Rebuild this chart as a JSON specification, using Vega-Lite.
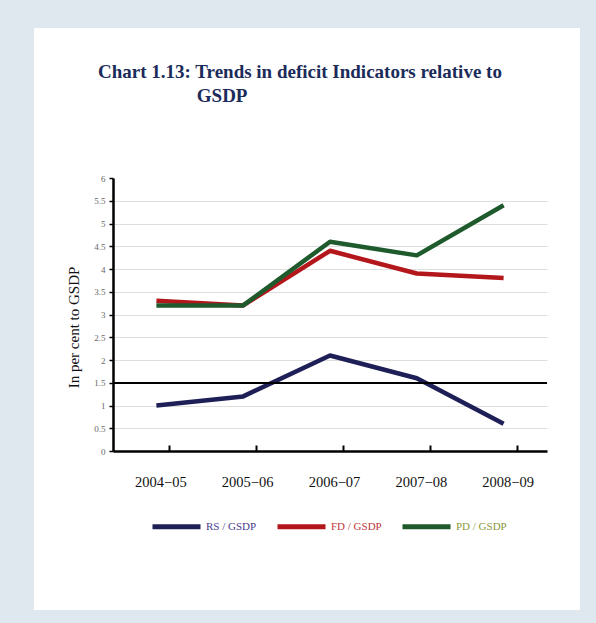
{
  "$schema": "https://vega.github.io/schema/vega-lite/v6.json",
  "autosize": {"type": "none"},
  "padding": {"left": 34, "top": 28, "right": 16, "bottom": 13},
  "width": 546,
  "height": 582,
  "background": "#dfe7ef",
  "config": {
    "view": {"fill": "white", "stroke": null},
    "font": "Liberation Serif"
  },
  "title": {
    "text": ["Chart 1.13: Trends in deficit Indicators relative to", "\u200b\u2003\u2003\u2003\u2003\u2003\u2009GSDP"],
    "anchor": "start",
    "frame": "group",
    "font": "Liberation Serif",
    "fontSize": 19,
    "fontWeight": "bold",
    "color": "#1b2b5a",
    "lineHeight": 24,
    "dx": 64,
    "offset": -78
  },
  "data": {
    "values": [
      {"year": "2004-05", "series": "RS / GSDP", "value": 1.0},
      {"year": "2005-06", "series": "RS / GSDP", "value": 1.2},
      {"year": "2006-07", "series": "RS / GSDP", "value": 2.1},
      {"year": "2007-08", "series": "RS / GSDP", "value": 1.6},
      {"year": "2008-09", "series": "RS / GSDP", "value": 0.6},
      {"year": "2004-05", "series": "FD / GSDP", "value": 3.3},
      {"year": "2005-06", "series": "FD / GSDP", "value": 3.2},
      {"year": "2006-07", "series": "FD / GSDP", "value": 4.4},
      {"year": "2007-08", "series": "FD / GSDP", "value": 3.9},
      {"year": "2008-09", "series": "FD / GSDP", "value": 3.8},
      {"year": "2004-05", "series": "PD / GSDP", "value": 3.2},
      {"year": "2005-06", "series": "PD / GSDP", "value": 3.2},
      {"year": "2006-07", "series": "PD / GSDP", "value": 4.6},
      {"year": "2007-08", "series": "PD / GSDP", "value": 4.3},
      {"year": "2008-09", "series": "PD / GSDP", "value": 5.4}
    ]
  },
  "encoding": {
    "x": {
      "field": "year",
      "type": "ordinal",
      "scale": {"type": "band", "range": [79, 513], "paddingInner": 0, "paddingOuter": 0},
      "axis": {
        "title": null,
        "orient": "bottom",
        "offset": -159,
        "domainColor": "black",
        "domainWidth": 2.5,
        "tickColor": "black",
        "tickWidth": 2,
        "tickSize": -6,
        "tickOffset": 13,
        "labelOffset": -9,
        "labelAngle": 0,
        "labelFont": "Liberation Serif",
        "labelFontSize": 14.5,
        "labelColor": "#111",
        "labelPadding": 30,
        "labelExpr": "replace(datum.label, '-', '\u2212')"
      }
    },
    "y": {
      "field": "value",
      "type": "quantitative",
      "scale": {"domain": [0, 6], "range": [423, 150], "nice": false, "zero": true},
      "axis": {
        "title": "In per cent to GSDP",
        "orient": "left",
        "offset": -79,
        "values": [0, 0.5, 1, 1.5, 2, 2.5, 3, 3.5, 4, 4.5, 5, 5.5, 6],
        "format": "~g",
        "domainColor": "black",
        "domainWidth": 2.5,
        "tickColor": "black",
        "tickWidth": 1.5,
        "tickSize": 4,
        "labelFont": "Liberation Serif",
        "labelFontSize": 9,
        "labelColor": "#666",
        "labelPadding": 4,
        "grid": true,
        "gridColor": {"condition": {"test": "datum.value == 0 || datum.value == 6", "value": "transparent"}, "value": "#dedede"},
        "gridWidth": 1,
        "titleFont": "Liberation Serif",
        "titleFontSize": 15,
        "titleFontWeight": "normal",
        "titleColor": "#111",
        "titlePadding": 12,
        "titleY": 299
      }
    }
  },
  "layer": [
    {
      "mark": {"type": "line", "strokeWidth": 4.5, "strokeCap": "butt", "strokeJoin": "round"},
      "encoding": {
        "color": {
          "field": "series",
          "type": "nominal",
          "scale": {"domain": ["RS / GSDP", "FD / GSDP", "PD / GSDP"], "range": ["#1f1f58", "#b3171c", "#1e5a2c"]},
          "legend": {
            "title": null,
            "orient": "none",
            "legendX": 116,
            "legendY": 472,
            "direction": "horizontal",
            "symbolType": "stroke",
            "symbolSize": 2304,
            "symbolStrokeWidth": 5,
            "labelFont": "Liberation Serif",
            "labelFontSize": 11,
            "labelOffset": 3,
            "columnPadding": 10,
            "labelColor": {"expr": "datum.label == 'RS / GSDP' ? '#4a3d8f' : datum.label == 'FD / GSDP' ? '#c0393b' : '#8c9a3c'"}
          }
        }
      }
    },
    {
      "mark": {"type": "rule", "color": "black", "strokeWidth": 1.5},
      "encoding": {
        "x": {"datum": "2004-05", "type": "ordinal", "bandPosition": 0},
        "x2": {"datum": "2008-09", "bandPosition": 1},
        "y": {"datum": 1.5, "type": "quantitative"}
      }
    }
  ]
}
